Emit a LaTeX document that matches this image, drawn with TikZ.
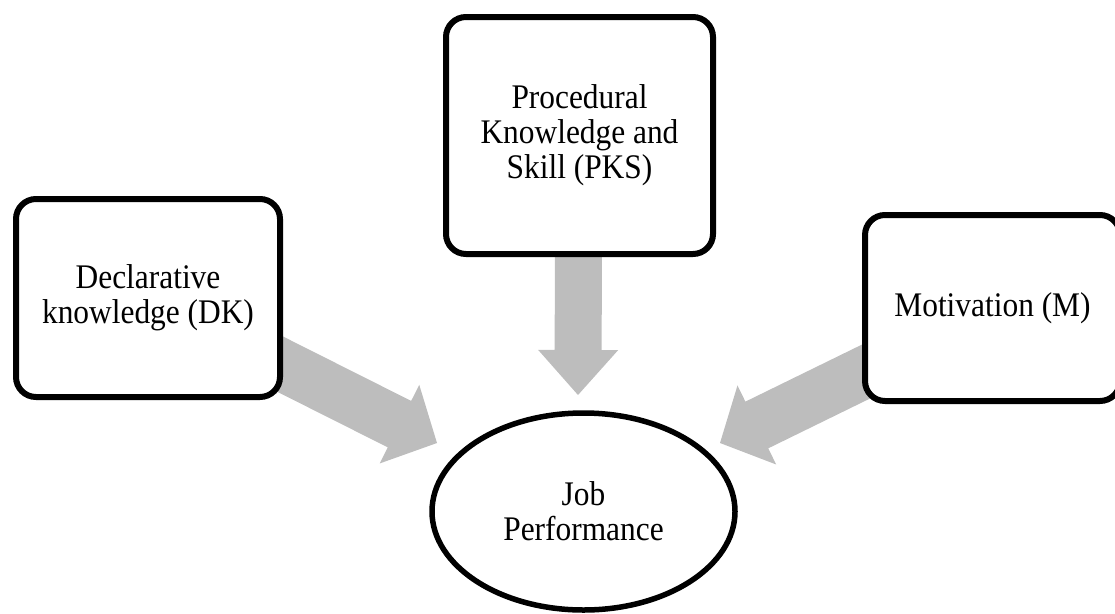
\documentclass[tikz,border=0pt]{standalone}
\usepackage{fontspec}
\setmainfont{Liberation Serif}[FakeStretch=0.91]
\usetikzlibrary{calc,shapes.geometric,backgrounds}
\definecolor{arrowgray}{RGB}{189,189,189}
\tikzset{
  txt/.style={font=\fontsize{34.5}{35}\selectfont, align=center, inner sep=0pt},
  box/.style={txt, draw=black, line width=6pt, rounded corners=20pt, fill=white},
  oval/.style={txt, ellipse, draw=black, line width=5.5pt, fill=white},
  blockarrowfill/.style={fill=arrowgray, draw=none}
}
% #1 start, #2 tip, #3 half shaft, #4 half head, #5 head length
\newcommand\myblockarrow[5]{%
  \coordinate (#1-base) at ($(#2)!#5!(#1)$);
  \fill[blockarrowfill]
    ($(#1)!#3!90:(#2)$) -- ($(#1-base)!#3!90:(#2)$) -- ($(#1-base)!#4!90:(#2)$)
    -- (#2)
    -- ($(#1-base)!#4!-90:(#2)$) -- ($(#1-base)!#3!-90:(#2)$) -- ($(#1)!#3!-90:(#2)$) -- cycle;
}
\begin{document}
\begin{tikzpicture}[x=1pt,y=-1pt]
\useasboundingbox (0,0) rectangle (1115,613);
\node[box, minimum width=264pt, minimum height=198pt] (dk) at (148,298) {Declarative\\knowledge (DK)};
\node[box, minimum width=267pt, minimum height=237pt] (pks) at (579.5,135.5) {Procedural\\Knowledge and\\Skill (PKS)};
\node[box, minimum width=255pt, minimum height=186pt] (m) at (992.5,308) {Motivation (M)};
\node[oval, minimum width=303pt, minimum height=197pt] (jp) at (583.5,511.5) {Job\\Performance};
\begin{scope}[on background layer]
  \coordinate (dkS) at ($(dk.east)+(-27,54)$);
  \coordinate (dkT) at (437,443);
  \coordinate (pksS) at ($(pks.south)+(-1,-29)$);
  \coordinate (pksT) at (578,395);
  \coordinate (mS) at ($(m.west)+(24.5,53.5)$);
  \coordinate (mT) at (720,443);
  \myblockarrow{dkS}{dkT}{26pt}{44pt}{42pt}
  \myblockarrow{pksS}{pksT}{23.5pt}{40pt}{45pt}
  \myblockarrow{mS}{mT}{26pt}{44pt}{41pt}
\end{scope}
\end{tikzpicture}
\end{document}
